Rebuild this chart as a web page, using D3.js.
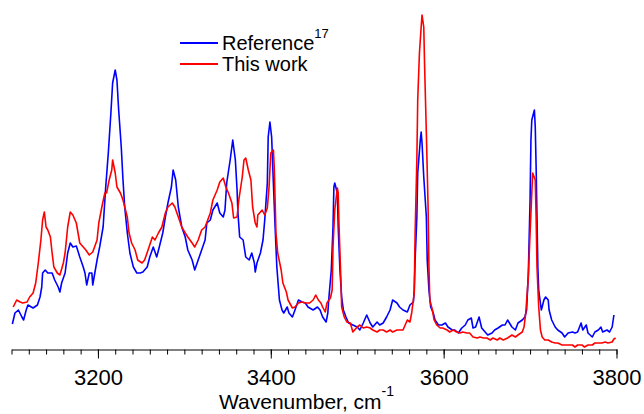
<!DOCTYPE html>
<html>
<head>
<meta charset="utf-8">
<script src="https://cdn.jsdelivr.net/npm/d3@7"></script>
<style>
  body { margin: 0; background: #fff; }
  text { font-family: "Liberation Sans", Arial, sans-serif; fill: #000; }
</style>
</head>
<body>
<script>
// spectra: [wavenumber (cm-1), intensity (a.u.)]
const reference = [
  [3101,25],[3104,36],[3108,39],[3112,32],[3114,29],[3117,39],[3119,44],[3125,41],[3130,44],[3133,52],
  [3135,62],[3136,76],[3139,79],[3142,76],[3147,76],[3150,69],[3154,62],[3156,57],[3158,66],[3162,76],
  [3165,96],[3168,106],[3171,102],[3175,103],[3179,92],[3183,82],[3185,76],[3187,64],[3190,76],[3193,76],
  [3194,64],[3199,89],[3202,102],[3206,122],[3209,162],[3212,196],[3215,236],[3217,266],[3220,279],[3222,269],
  [3224,239],[3227,202],[3229,169],[3231,142],[3234,116],[3237,96],[3241,82],[3245,76],[3249,76],[3252,77],
  [3257,82],[3260,92],[3264,102],[3268,92],[3271,102],[3275,116],[3278,132],[3281,146],[3285,162],[3287,179],
  [3290,169],[3293,142],[3297,122],[3301,112],[3304,99],[3309,89],[3312,79],[3316,89],[3320,99],[3324,109],
  [3326,126],[3330,129],[3333,139],[3338,146],[3341,136],[3345,132],[3347,139],[3349,166],[3353,189],[3356,209],
  [3359,189],[3361,159],[3362,136],[3364,112],[3368,109],[3371,92],[3375,89],[3378,96],[3381,86],[3382,77],
  [3384,86],[3388,96],[3391,109],[3393,129],[3396,166],[3397,212],[3399,227],[3401,212],[3403,166],[3405,122],
  [3407,82],[3410,49],[3413,39],[3415,36],[3419,42],[3421,36],[3425,32],[3428,39],[3432,49],[3436,47],
  [3440,46],[3443,42],[3445,41],[3449,39],[3454,42],[3457,39],[3460,32],[3464,27],[3466,36],[3467,49],
  [3470,79],[3472,122],[3473,162],[3474,166],[3477,156],[3478,122],[3480,79],[3482,52],[3484,39],[3487,32],
  [3490,26],[3495,24],[3500,22],[3503,19],[3507,26],[3511,34],[3515,26],[3518,22],[3523,27],[3526,24],
  [3530,26],[3534,32],[3538,39],[3541,49],[3546,46],[3549,42],[3553,39],[3558,37],[3561,44],[3565,47],
  [3566,59],[3567,89],[3569,132],[3570,176],[3573,209],[3574,217],[3575,206],[3577,172],[3580,132],[3581,89],
  [3583,59],[3585,42],[3588,36],[3590,29],[3594,24],[3598,24],[3602,26],[3605,22],[3610,19],[3613,19],
  [3617,16],[3621,21],[3625,24],[3628,29],[3632,31],[3634,21],[3637,22],[3641,32],[3644,21],[3648,17],
  [3651,14],[3656,16],[3659,19],[3663,21],[3668,24],[3671,24],[3674,29],[3679,22],[3683,19],[3686,26],
  [3691,29],[3694,32],[3696,39],[3698,76],[3700,149],[3701,209],[3702,229],[3705,239],[3706,222],[3707,182],
  [3708,132],[3709,82],[3710,59],[3713,39],[3714,42],[3716,49],[3718,52],[3721,49],[3722,39],[3725,29],
  [3729,22],[3732,19],[3737,16],[3740,12],[3744,16],[3749,17],[3752,16],[3755,17],[3759,26],[3761,19],
  [3765,24],[3767,16],[3772,12],[3775,17],[3779,19],[3782,22],[3784,17],[3789,19],[3792,17],[3795,22],
  [3797,34]
];

const thisWork = [
  [3102,42],[3106,49],[3110,47],[3113,46],[3118,47],[3121,52],[3125,56],[3128,66],[3131,86],[3134,109],
  [3136,129],[3138,137],[3140,122],[3142,119],[3145,112],[3147,96],[3149,82],[3153,76],[3156,74],[3160,86],
  [3162,96],[3165,122],[3168,137],[3171,134],[3175,126],[3177,116],[3179,106],[3183,102],[3186,99],[3190,94],
  [3194,97],[3199,109],[3201,126],[3205,144],[3208,156],[3210,156],[3213,169],[3216,179],[3217,189],[3220,176],
  [3222,162],[3226,156],[3229,149],[3231,142],[3234,132],[3236,116],[3239,106],[3243,99],[3246,89],[3251,86],
  [3254,89],[3258,99],[3263,112],[3266,109],[3270,116],[3274,122],[3278,136],[3281,142],[3286,146],[3289,142],
  [3293,132],[3297,122],[3301,116],[3304,112],[3309,106],[3312,102],[3316,109],[3320,119],[3324,122],[3327,129],
  [3330,136],[3333,149],[3338,159],[3341,167],[3345,171],[3348,162],[3351,156],[3355,146],[3357,131],[3361,132],
  [3363,149],[3367,172],[3369,189],[3371,191],[3374,179],[3377,169],[3379,142],[3382,126],[3384,122],[3385,134],
  [3390,139],[3393,134],[3396,141],[3398,162],[3400,196],[3403,199],[3404,182],[3406,116],[3408,96],[3412,79],
  [3414,66],[3418,57],[3420,49],[3425,41],[3428,42],[3432,46],[3436,47],[3440,46],[3445,46],[3449,49],
  [3452,54],[3455,49],[3458,46],[3460,42],[3463,37],[3465,46],[3469,51],[3471,59],[3472,102],[3474,139],
  [3477,161],[3478,156],[3479,122],[3481,72],[3482,42],[3485,32],[3488,27],[3492,26],[3495,17],[3500,22],
  [3503,24],[3507,21],[3511,22],[3515,21],[3518,19],[3523,17],[3526,19],[3530,19],[3534,17],[3538,19],
  [3541,17],[3546,19],[3549,19],[3553,19],[3558,29],[3561,27],[3563,36],[3566,56],[3567,116],[3569,189],
  [3570,249],[3572,296],[3574,322],[3575,334],[3577,322],[3578,282],[3580,216],[3582,142],[3583,82],[3584,49],
  [3587,39],[3589,29],[3592,24],[3596,21],[3599,21],[3604,19],[3607,17],[3611,19],[3615,17],[3619,16],
  [3622,17],[3627,16],[3630,16],[3634,12],[3639,11],[3642,12],[3646,11],[3650,11],[3654,9],[3657,11],
  [3662,9],[3665,11],[3669,9],[3674,11],[3679,14],[3683,12],[3686,14],[3691,17],[3693,22],[3695,36],
  [3698,72],[3700,116],[3702,156],[3703,176],[3706,169],[3707,132],[3708,82],[3710,42],[3712,19],[3714,12],
  [3717,9],[3721,9],[3725,7],[3729,6],[3732,6],[3737,4],[3740,4],[3744,4],[3749,4],[3752,2],
  [3755,4],[3760,4],[3763,2],[3767,4],[3772,4],[3775,6],[3779,6],[3783,6],[3787,7],[3790,6],
  [3795,7],[3797,10],[3799,11]
];

const series = [
  { name: "Reference", sup: "17", color: "#0000ff", data: reference },
  { name: "This work", sup: "", color: "#ff0000", data: thisWork }
];
const majorTicks = [3200, 3400, 3600, 3800];

const width = 644, height = 414;

const x = d3.scaleLinear().domain([3100, 3800]).range([11.5, 616.5]);
const y = d3.scaleLinear().domain([0, 335]).range([349, 14]);

const svg = d3.select("body").append("svg")
    .attr("width", width)
    .attr("height", height);

// minor ticks every 20 cm-1
svg.append("g")
    .attr("transform", "translate(0,349.5)")
    .call(d3.axisBottom(x).tickValues(d3.range(3100, 3801, 20)).tickSize(5).tickSizeOuter(0).tickFormat(""))
    .call(g => g.selectAll("line").attr("stroke", "#000"))
    .call(g => g.select(".domain").attr("stroke", "#000"));

// major ticks with labels
svg.append("g")
    .attr("transform", "translate(0,349.5)")
    .call(d3.axisBottom(x).tickValues(majorTicks).tickSize(9).tickSizeOuter(0).tickPadding(11).tickFormat(d3.format("d")))
    .call(g => g.select(".domain").remove())
    .call(g => g.selectAll("line").attr("stroke", "#000"))
    .call(g => g.selectAll("text")
        .attr("font-family", "Liberation Sans, Arial, sans-serif")
        .attr("font-size", 22)
        .attr("fill", "#000"));

// axis title
const title = svg.append("text")
    .attr("x", 219)
    .attr("y", 409)
    .attr("font-size", 21);
title.append("tspan").text("Wavenumber, cm");
title.append("tspan").attr("dy", -13).attr("font-size", 14).text("-1");

// spectra
const line = d3.line()
    .x(d => x(d[0]))
    .y(d => y(d[1]));

svg.selectAll("path.spec")
    .data(series)
    .enter()
    .append("path")
    .attr("class", "spec")
    .attr("fill", "none")
    .attr("stroke", d => d.color)
    .attr("stroke-width", 1.6)
    .attr("stroke-linejoin", "round")
    .attr("d", d => line(d.data));

// legend
const legend = svg.append("g").attr("transform", "translate(180,43)");
const item = legend.selectAll("g")
    .data(series)
    .enter()
    .append("g")
    .attr("transform", (d, i) => `translate(0,${i * 21})`);
item.append("line")
    .attr("x1", 0).attr("x2", 38)
    .attr("stroke", d => d.color)
    .attr("stroke-width", 2);
const label = item.append("text")
    .attr("x", 42)
    .attr("y", 7)
    .attr("font-size", 20);
label.append("tspan").text(d => d.name);
label.append("tspan")
    .attr("dy", -12)
    .attr("font-size", 13)
    .text(d => d.sup);
</script>
</body>
</html>
